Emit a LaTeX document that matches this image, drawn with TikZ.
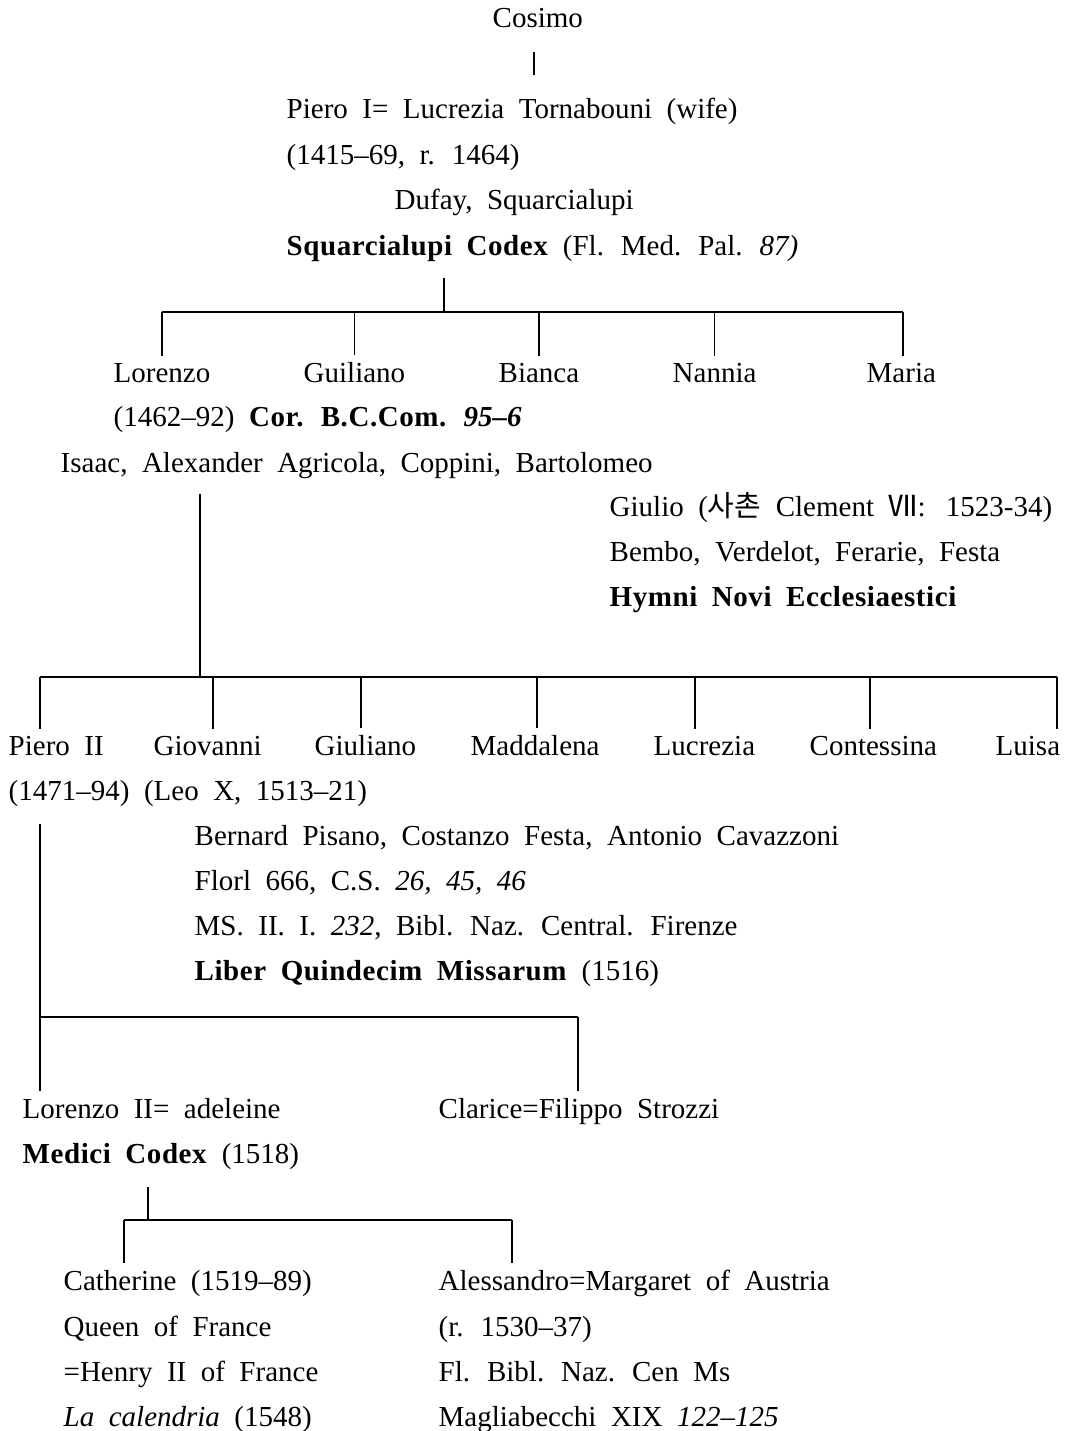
\documentclass[tikz,border=0pt]{standalone}
\usepackage{fontspec}
\setmainfont[BoldFeatures={LetterSpace=2}]{Liberation Serif}
\newfontfamily\kfont{Noto Sans CJK KR}
\newcommand\famfont{\fontsize{14.5}{17}\selectfont\spaceskip=0.5em\relax}
\begin{document}
\begin{tikzpicture}[x=0.5pt,y=-0.5pt,line width=0.7pt]
  \useasboundingbox (0,0) rectangle (1070,1431);

  \begin{scope}[every node/.style={anchor=base west, inner sep=0pt, font=\famfont}]
    \node (cosimo)     at (492,27)   {Cosimo};
    \node (piero)      at (286,118)  {Piero I= Lucrezia Tornabouni (wife)};
    \node (pierod)     at (286,164)  {(1415–69, r. 1464)};
    \node (dufay)      at (394,209)  {Dufay, Squarcialupi};
    \node (sqcodex)    at (286,255)  {\textbf{Squarcialupi Codex} (Fl. Med. Pal. \textit{87)}};

    \node (lorenzo)    at (113,382)  {Lorenzo};
    \node (guiliano)   at (303,382)  {Guiliano};
    \node (bianca)     at (498,382)  {Bianca};
    \node (nannia)     at (672,382)  {Nannia};
    \node (maria)      at (866,382)  {Maria};
    \node (lorenzod)   at (113,426)  {(1462–92) \textbf{Cor. B.C.Com. \textit{95–6}}};
    \node (isaac)      at (60,472)   {Isaac, Alexander Agricola, Coppini, Bartolomeo};
    \node (giulio)     at (609,516)  {Giulio ({\kfont 사촌} Clement {\kfont Ⅶ}:\hspace{0.7em}1523-34)};
    \node (bembo)      at (609,561)  {Bembo, Verdelot, Ferarie, Festa};
    \node (hymni)      at (609,606)  {\textbf{Hymni Novi Ecclesiaestici}};

    \node (pieroii)    at (8,755)    {Piero II};
    \node (giovanni)   at (153,755)  {Giovanni};
    \node (giuliano)   at (314,755)  {Giuliano};
    \node (maddalena)  at (470,755)  {Maddalena};
    \node (lucrezia)   at (653,755)  {Lucrezia};
    \node (contessina) at (809,755)  {Contessina};
    \node (luisa)      at (995,755)  {Luisa};
    \node (pieroiid)   at (8,800)    {(1471–94) (Leo X, 1513–21)};
    \node (bernard)    at (194,845)  {Bernard Pisano, Costanzo Festa, Antonio Cavazzoni};
    \node (florl)      at (194,890)  {Florl 666, C.S. \textit{26, 45, 46}};
    \node (ms)         at (194,935)  {MS. II. I. \textit{232}, Bibl. Naz. Central. Firenze};
    \node (liber)      at (194,980)  {\textbf{Liber Quindecim Missarum} (1516)};

    \node (lorenzoii)  at (22,1118)  {Lorenzo II= adeleine};
    \node (clarice)    at (438,1118) {Clarice=Filippo Strozzi};
    \node (medici)     at (22,1163)  {\textbf{Medici Codex} (1518)};

    \node (catherine)  at (63,1290)  {Catherine (1519–89)};
    \node (queen)      at (63,1336)  {Queen of France};
    \node (henry)      at (63,1381)  {=Henry II of France};
    \node (calendria)  at (63,1426)  {\textit{La calendria} (1548)};
    \node (alessandro) at (438,1290) {Alessandro=Margaret of Austria};
    \node (reign)      at (438,1336) {(r. 1530–37)};
    \node (flbibl)     at (438,1381) {Fl. Bibl. Naz. Cen Ms};
    \node (magl)       at (438,1426) {Magliabecchi XIX \textit{122–125}};
  \end{scope}

  % branch points
  \coordinate (c0)  at (534,52);
  \coordinate (c1)  at (534,75);
  \coordinate (a0)  at (444,278);
  \coordinate (a1)  at (444,312);
  \coordinate (aw)  at (162,312);
  \coordinate (ae)  at (903,312);
  \coordinate (b0)  at (200,494);
  \coordinate (b1)  at (200,677);
  \coordinate (bw)  at (40,677);
  \coordinate (be)  at (1057,677);
  \coordinate (b2)  at (213,677);
  \coordinate (b3)  at (361,677);
  \coordinate (b4)  at (537,677);
  \coordinate (b5)  at (695,677);
  \coordinate (b6)  at (870,677);
  \coordinate (d0)  at (40,824);
  \coordinate (d1)  at (40,1017);
  \coordinate (de)  at (578,1017);
  \coordinate (e0)  at (148,1187);
  \coordinate (e1)  at (148,1220);
  \coordinate (ew)  at (124,1220);
  \coordinate (ee)  at (512,1220);

  \begin{scope}[every edge/.style={draw}, tie/.style={shorten >=3pt}]
    \path (c0) edge (c1);

    \path (a0) edge (a1);
    \path (aw) edge (ae);
    \path (aw) edge[tie] (aw |- lorenzo.north);
    \path (guiliano.north |- a1) edge[tie] (guiliano.north);
    \path (bianca.north |- a1) edge[tie] (bianca.north);
    \path (nannia.north |- a1) edge[tie] (nannia.north);
    \path (ae) edge[tie] (ae |- maria.north);

    \path (b0) edge (b1);
    \path (bw) edge (be);
    \path (bw) edge[tie] (bw |- pieroii.north);
    \path (b2) edge[tie] (b2 |- giovanni.north);
    \path (b3) edge[tie] (b3 |- giuliano.north);
    \path (b4) edge[tie] (b4 |- maddalena.north);
    \path (b5) edge[tie] (b5 |- lucrezia.north);
    \path (b6) edge[tie] (b6 |- contessina.north);
    \path (be) edge[tie] (be |- luisa.north);

    \path (d0) edge[tie] (d0 |- lorenzoii.north);
    \path (d1) edge (de);
    \path (de) edge[tie] (de |- clarice.north);

    \path (e0) edge (e1);
    \path (ew) edge (ee);
    \path (ew) edge[tie] (ew |- catherine.north);
    \path (ee) edge[tie] (ee |- alessandro.north);
  \end{scope}

\end{tikzpicture}
\end{document}
